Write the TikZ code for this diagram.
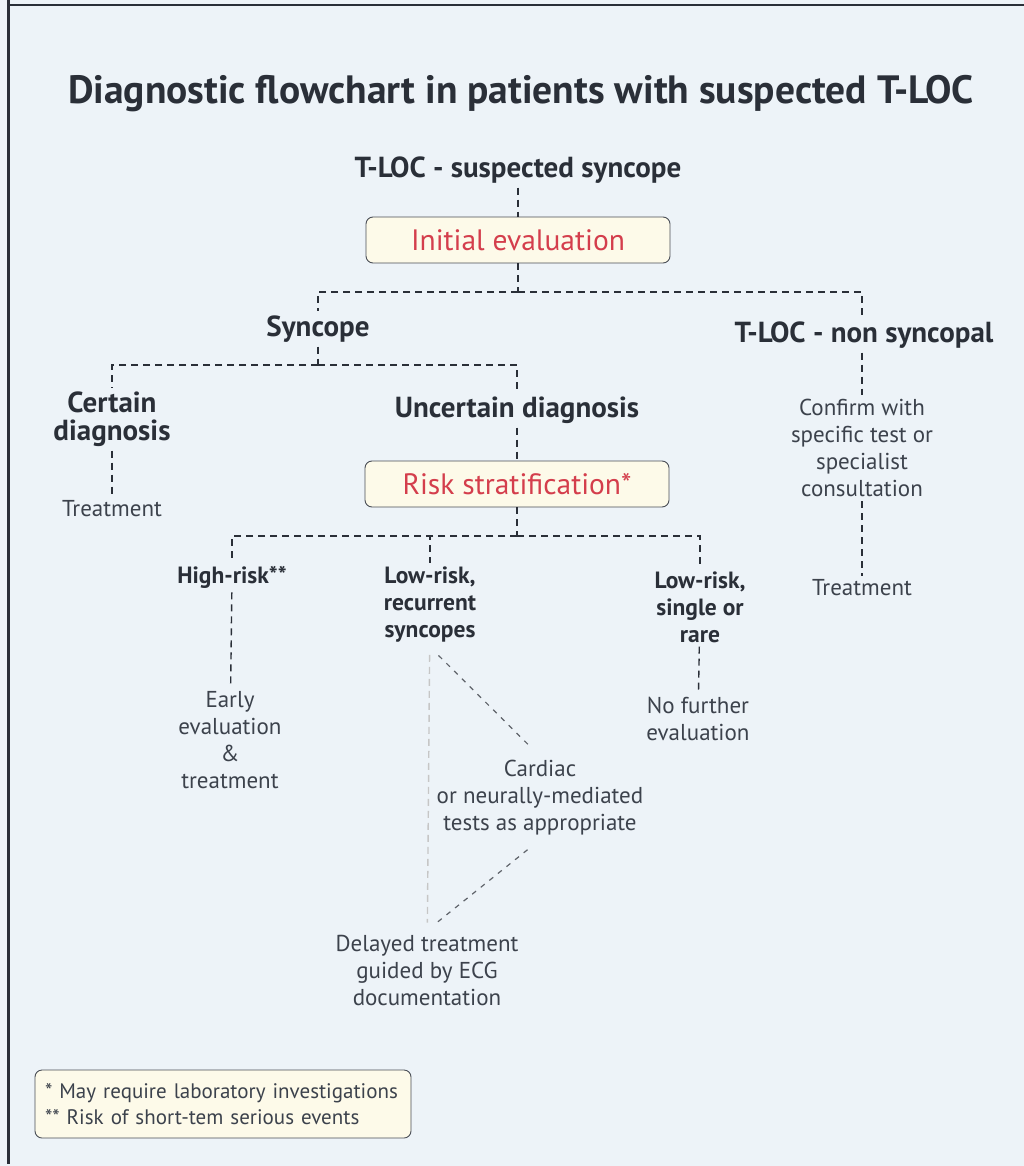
\documentclass[tikz,border=0pt]{standalone}
\usepackage{fontspec}
\setmainfont{PT Sans}
\usetikzlibrary{positioning}
\definecolor{paper}{RGB}{237,243,248}
\definecolor{cream}{RGB}{253,250,233}
\definecolor{boxred}{RGB}{212,62,76}
\definecolor{ink}{RGB}{42,47,56}
\definecolor{softink}{RGB}{60,66,76}

\tikzset{
	head/.style = {align=center, text=ink, inner sep=4pt,
	               font=\bfseries\fontsize{29}{28}\selectfont},
	mid/.style = {align=center, text=ink, inner sep=4pt,
	              font=\bfseries\fontsize{23.5}{27}\selectfont},
	small/.style = {align=center, text=softink, inner sep=4pt,
	                font=\fontsize{23}{27}\selectfont},
	stage/.style = {draw=ink!85, line width=0.9pt, rounded corners=7pt,
	                fill=cream, text=boxred, minimum width=304pt,
	                minimum height=46pt, font=\fontsize{29.5}{30}\selectfont},
	link/.style = {draw=ink, line width=1.4pt, dash pattern=on 7pt off 5pt},
	faint/.style = {draw=gray!45, line width=1.4pt, dash pattern=on 7pt off 5pt},
	slant/.style = {draw=ink!75, line width=1.2pt, dash pattern=on 5pt off 6pt}
}

\begin{document}
\begin{tikzpicture}[x=1pt, y=-1pt]

	\useasboundingbox (0,0) rectangle (1024,1166);
	\fill[paper] (0,0) rectangle (1024,1166);
	\draw[ink, line width=3pt] (8,0) -- (8,1164);
	\draw[ink, line width=2.5pt] (8,5) -- (1024,5);

	\node [text=ink, font=\bfseries\fontsize{39.5}{42}\selectfont] (T) at (521,94)
		{Diagnostic flowchart in patients with suspected T-LOC};

	\node [head] (A) at (518,170){T-LOC - suspected syncope};
	\node [stage] (B) at (518,240){Initial evaluation};
	\node [head] (C) at (318,329){Syncope};
	\node [head] (D) at (864,335){T-LOC - non syncopal};
	\node [head] (E) at (112,419){Certain\\diagnosis};
	\node [head] (F) at (517,410){Uncertain diagnosis};
	\node [stage] (G) at (517,484){Risk stratification*};
	\node [small] (H) at (112,509){Treatment};
	\node [small] (I) at (862,448){Confirm with\\specific test or\\specialist\\consultation};
	\node [small] (J) at (862,588){Treatment};
	\node [mid] (K) at (232,577){High-risk**};
	\node [mid] (L) at (430,605){Low-risk,\\recurrent\\syncopes};
	\node [mid] (M) at (700,607){Low-risk,\\single or\\rare};
	\node [small] (N) at (230,740){Early\\evaluation\\\&\\treatment};
	\node [small] (O) at (698,719){No further\\evaluation};
	\node [small] (P) at (540,798){Cardiac\\or neurally-mediated\\tests as appropriate};
	\node [small] (Q) at (427,970){Delayed treatment\\guided by ECG\\documentation};

	\node [draw=ink!85, line width=0.9pt, rounded corners=7pt, fill=cream,
		   text=softink, align=left, text width=356pt, inner sep=10pt,
		   minimum height=68pt, font=\fontsize{21}{26}\selectfont] (R) at (223,1104)
		{* May require laboratory investigations\\{}** Risk of short-tem serious events};

	\coordinate (s1) at (518,292);
	\coordinate (s2) at (318,365);
	\coordinate (s3) at (517,536);

	\draw[link] (A) -- (B);
	\draw[link] (B) -- (s1);
	\draw[link] (s1) -| (C);
	\draw[link] (s1) -| (D.north -| I.north);
	\draw[link] (C) -- (s2);
	\draw[link] (s2) -| (E);
	\draw[link] (s2) -| (F);
	\draw[link] (F) -- (G);
	\draw[link] (E) -- (H);
	\draw[link] (D.south -| I.north) -- (I);
	\draw[link] (I) -- (J);
	\draw[link] (G) -- (s3);
	\draw[link] (s3) -| (K);
	\draw[link] (s3) -| (L);
	\draw[link] (s3) -| (M);
	\draw[link] (K) -- (N);
	\draw[link] (M) -- (O);

	\draw[faint, shorten <=8pt, shorten >=8pt] (L) -- (Q);
	\draw[slant, shorten <=12pt, shorten >=16pt] (L.south) -- (P.north);
	\draw[slant, shorten <=16pt, shorten >=10pt] (P.south) -- (Q.north);

\end{tikzpicture}
\end{document}
